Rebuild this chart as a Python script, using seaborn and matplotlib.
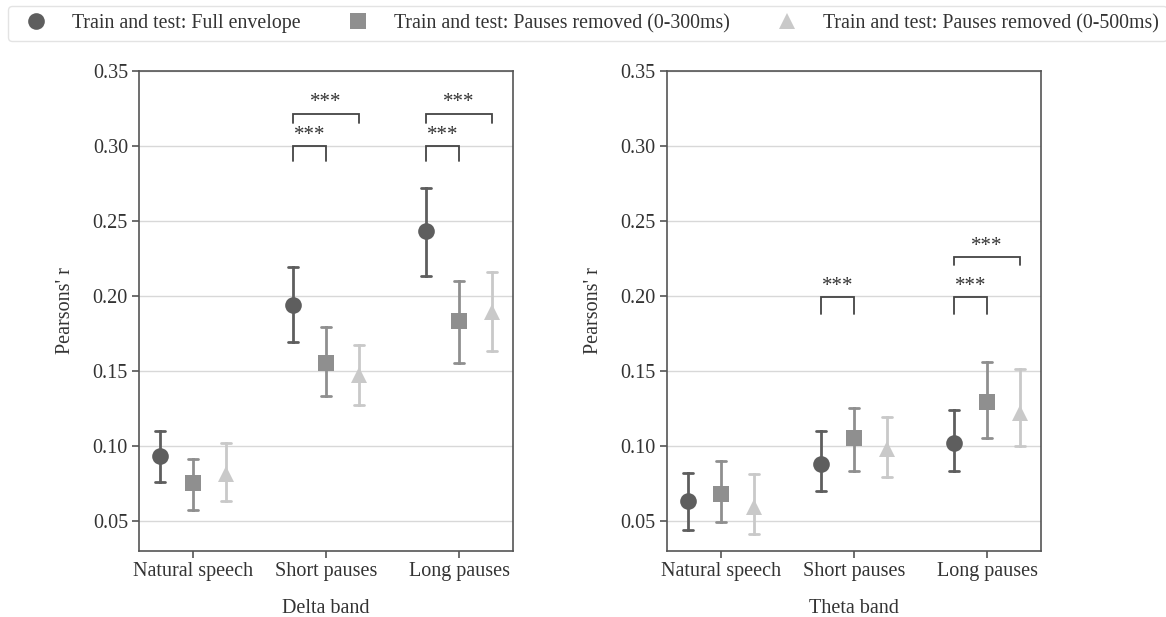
import matplotlib
matplotlib.use("Agg")
import matplotlib.pyplot as plt
from matplotlib.lines import Line2D
import numpy as np
import pandas as pd
import seaborn as sns

# ---- data -------------------------------------------------------------
categories = ["Natural speech", "Short pauses", "Long pauses"]
conditions = [
    "Train and test: Full envelope",
    "Train and test: Pauses removed (0-300ms)",
    "Train and test: Pauses removed (0-500ms)",
]

# Delta band: mean and interval bounds per condition (rows) x category (cols)
delta_mean = [[0.093, 0.194, 0.243], [0.075, 0.155, 0.183], [0.081, 0.147, 0.189]]
delta_low = [[0.076, 0.169, 0.213], [0.057, 0.133, 0.155], [0.063, 0.127, 0.163]]
delta_high = [[0.110, 0.219, 0.272], [0.091, 0.179, 0.210], [0.102, 0.167, 0.216]]

# Theta band
theta_mean = [[0.063, 0.088, 0.102], [0.068, 0.105, 0.129], [0.059, 0.098, 0.122]]
theta_low = [[0.044, 0.070, 0.083], [0.049, 0.083, 0.105], [0.041, 0.079, 0.100]]
theta_high = [[0.082, 0.110, 0.124], [0.090, 0.125, 0.156], [0.081, 0.119, 0.151]]

# significance brackets: (category, condition a, condition b, bar top, leg end)
delta_sig = [(1, 0, 1, 0.300, 0.290), (1, 0, 2, 0.3215, 0.3155),
             (2, 0, 1, 0.300, 0.290), (2, 0, 2, 0.3215, 0.3155)]
theta_sig = [(1, 0, 1, 0.199, 0.188),
             (2, 0, 1, 0.199, 0.188), (2, 0, 2, 0.2257, 0.2205)]
sig_label = "***"

# ---- style ------------------------------------------------------------
sns.set_theme(style="white")
plt.rcParams["font.family"] = ["Liberation Serif", "DejaVu Serif"]
text_col = "#333333"
spine_col = "#555555"
palette = ["#5e5e5e", "#8f8f8f", "#c9c9c9"]
markers = ["o", "s", "^"]
dodge = 0.5
fs = 14.5


def long_table(mean, low, high):
    rows = []
    for ci, cond in enumerate(conditions):
        for ki, cat in enumerate(categories):
            for v in (low[ci][ki], mean[ci][ki], high[ci][ki]):
                rows.append({"category": cat, "condition": cond, "r": v})
    return pd.DataFrame(rows)


def draw_panel(ax, mean, low, high, sig, xlabel):
    df = long_table(mean, low, high)
    sns.pointplot(
        data=df, x="category", y="r", hue="condition",
        order=categories, hue_order=conditions,
        estimator="median", errorbar=lambda v: (v.min(), v.max()),
        dodge=dodge, markers=markers, linestyles="none",
        palette=palette, capsize=0.075,
        err_kws={"linewidth": 2.0}, markersize=12, markeredgewidth=0,
        legend=False, ax=ax,
    )
    offsets = np.linspace(0, dodge, len(conditions)) - dodge / 2
    for k, a, b, top, leg in sig:
        xa, xb = k + offsets[a], k + offsets[b]
        ax.plot([xa, xa, xb, xb], [leg, top, top, leg], color="#444444", lw=1.3,
                solid_joinstyle="miter")
        ax.annotate(sig_label, xy=((xa + xb) / 2, top), xytext=(0, 4.5),
                    textcoords="offset points", ha="center", va="baseline",
                    fontsize=15, color=text_col)

    ax.set_ylim(0.03, 0.35)
    ax.set_xlim(-0.405, 2.405)
    ax.set_yticks([0.05, 0.10, 0.15, 0.20, 0.25, 0.30, 0.35])
    ax.set_yticklabels([f"{t:.2f}" for t in ax.get_yticks()])
    ax.yaxis.grid(True, color="#d8d8d8", linewidth=1.0)
    ax.set_axisbelow(True)
    for s in ax.spines.values():
        s.set_color(spine_col)
        s.set_linewidth(1.2)
    ax.tick_params(axis="both", which="both", direction="out", length=5,
                   width=1.2, color=spine_col, labelsize=fs, labelcolor=text_col,
                   bottom=True, left=True, pad=3)
    ax.set_xlabel(xlabel, fontsize=fs, color=text_col, labelpad=13)
    ax.set_ylabel("Pearsons' r", fontsize=fs, color=text_col, labelpad=13)


fig = plt.figure(figsize=(11.66, 6.17), dpi=100)
ax1 = fig.add_axes([0.1192, 0.107, 0.3208, 0.778])
ax2 = fig.add_axes([0.5720, 0.107, 0.3208, 0.778])

draw_panel(ax1, delta_mean, delta_low, delta_high, delta_sig, "Delta band")
draw_panel(ax2, theta_mean, theta_low, theta_high, theta_sig, "Theta band")

handles = [Line2D([], [], linestyle="none", marker=m, color=c, markersize=12,
                  markeredgewidth=0) for m, c in zip(markers, palette)]
leg = fig.legend(handles, conditions, loc="upper left", ncol=3,
                 bbox_to_anchor=(8 / 1166, 1 - 6 / 617), borderaxespad=0,
                 frameon=True, fontsize=14.3, handlelength=2.0,
                 handletextpad=0.8, columnspacing=1.9,
                 borderpad=0.4, fancybox=True)
leg.get_frame().set_edgecolor("#dddddd")
leg.get_frame().set_linewidth(1.0)
for t in leg.get_texts():
    t.set_color(text_col)

fig.savefig("out.png", dpi=100)
